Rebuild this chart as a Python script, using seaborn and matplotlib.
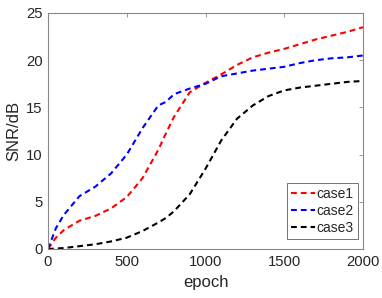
import matplotlib
matplotlib.use("Agg")
import matplotlib.pyplot as plt
import seaborn as sns
import pandas as pd

epoch = [0, 50, 100, 200, 300, 400, 500, 600, 700, 750, 800, 900, 1000, 1100, 1200, 1300, 1400, 1500, 1600, 1700, 1800, 1900, 2000]
case1 = [0, 1.2, 2.0, 3.0, 3.5, 4.3, 5.5, 7.5, 10.5, 12.3, 14.0, 16.6, 17.6, 18.5, 19.5, 20.3, 20.8, 21.2, 21.7, 22.2, 22.6, 23.0, 23.5]
case2 = [0, 2.2, 3.6, 5.6, 6.6, 8.0, 10.0, 12.8, 15.2, 15.6, 16.4, 17.0, 17.5, 18.3, 18.6, 18.9, 19.1, 19.3, 19.7, 20.0, 20.2, 20.3, 20.5]
case3 = [0, 0.05, 0.1, 0.3, 0.5, 0.8, 1.2, 1.9, 2.8, 3.3, 4.0, 5.8, 8.5, 11.5, 13.8, 15.2, 16.2, 16.8, 17.1, 17.3, 17.5, 17.7, 17.8]
labels = ["case1", "case2", "case3"]
colors = ["#ff0000", "#0000ff", "#000000"]

df = pd.DataFrame({"epoch": epoch * 3,
                   "SNR": case1 + case2 + case3,
                   "case": sum([[l] * len(epoch) for l in labels], [])})

sns.set_style("white")
plt.rcParams['font.family'] = ['Liberation Sans', 'DejaVu Sans']

fig = plt.figure(figsize=(3.82, 2.98), dpi=100)
ax = fig.add_axes([48/382, 49/298, 315/382, 236/298])
sns.lineplot(data=df, x="epoch", y="SNR", hue="case", palette=colors, ax=ax,
             linewidth=1.5, legend=True)
dash = (2.8, 1.9)
for line in ax.get_lines():
    line.set_dashes(dash)
ax.set_xlim(0, 2000)
ax.set_ylim(0, 25)
ax.set_xticks([0, 500, 1000, 1500, 2000])
ax.set_yticks([0, 5, 10, 15, 20, 25])
ax.set_xlabel("epoch", fontsize=12, color="#262626", labelpad=5)
ax.set_ylabel("SNR/dB", fontsize=12, color="#262626", labelpad=3)
ax.tick_params(direction="in", length=3, width=0.6, labelsize=10.7, colors="#262626",
               top=True, right=True, pad=4)
ax.tick_params(color="#888888")
for s in ax.spines.values():
    s.set_color("#888888")
    s.set_linewidth(0.8)
leg = ax.legend(loc="lower right", bbox_to_anchor=(358/382, 59/298),
                bbox_transform=fig.transFigure, borderaxespad=0,
                fontsize=10, frameon=True, fancybox=False,
                handlelength=1.7, handletextpad=0.15, borderpad=0.3, labelspacing=0.2)
leg.get_frame().set_edgecolor("#333333")
leg.get_frame().set_linewidth(0.6)
for h in leg.get_lines():
    h.set_dashes(dash)
fig.savefig("out.png", dpi=100)
